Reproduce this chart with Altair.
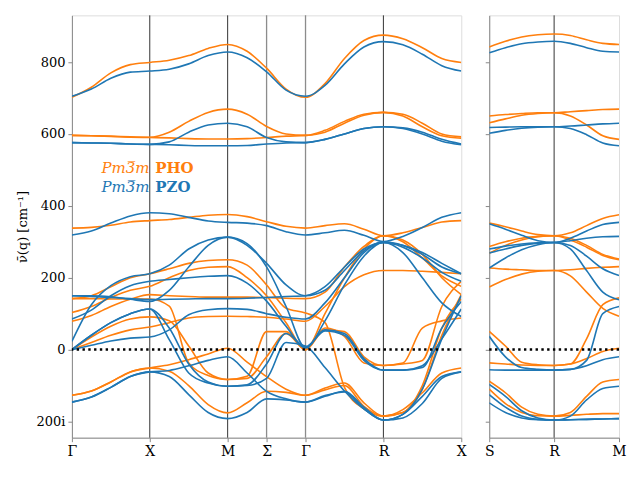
import altair as alt
import pandas as pd

ORANGE = "#ff7f0e"
BLUE = "#1f77b4"
SERIF = "DejaVu Serif"

materials = ["PHO", "PZO"]
mat_colors = [ORANGE, BLUE]

# high-symmetry path labels
left_ticks = [0, 1, 2, 2.5, 3, 4, 5]
left_labels = ["Γ", "X", "M", "Σ", "Γ", "R", "X"]
left_dark_lines = [1, 2, 4]
left_gray_lines = [2.5, 3]
right_ticks = [0, 1, 2]
right_labels = ["S", "R", "M"]
right_dark_lines = [1]

y_ticks = [-200, 0, 200, 400, 600, 800]
y_labels = ["200i", "0", "200", "400", "600", "800"]

# sampling points along the paths (quarter of a segment)
left_q = [0, 0.25, 0.5, 0.75, 1, 1.25, 1.5, 1.75, 2, 2.25, 2.5, 2.75,
          3, 3.25, 3.5, 3.75, 4, 4.25, 4.5, 4.75, 5]
right_q = [0, 0.25, 0.5, 0.75, 1, 1.25, 1.5, 1.75, 2]

# PHO branches, path Γ-X-M-Σ-Γ-R-X (cm^-1, negative = imaginary)
pho_left = [
    [702, 730, 770, 793, 799, 805, 818, 838, 849, 830, 783, 725, 702, 740, 810, 860, 875, 865, 840, 810, 799],
    [596, 595, 594, 592, 591, 605, 635, 660, 669, 655, 621, 600, 596, 610, 635, 655, 660, 655, 630, 600, 592],
    [596, 595, 593, 591, 590, 589, 587, 586, 586, 587, 590, 594, 596, 605, 630, 652, 660, 650, 620, 595, 588],
    [338, 340, 346, 355, 359, 362, 368, 374, 376, 370, 356, 343, 338, 345, 350, 335, 317, 325, 340, 355, 359],
    [142, 150, 175, 200, 211, 225, 240, 248, 250, 235, 180, 115, 102, 75, -105, -165, -185, -167, -120, -65, -51],
    [142, 142, 141, 141, 141, 121, -37, -72, -83, -74, 50, 50, 0, 60, 37, -37, -44, -37, 60, 80, 88],
    [103, 120, 145, 165, 176, 200, 220, 229, 231, 200, 150, 75, 0, 100, 200, 280, 317, 300, 255, 205, 176],
    [79, 95, 120, 140, 153, 150, 148, 146, 146, 146, 145, 143, 142, 160, 230, 287, 317, 305, 265, 200, 153],
    [0, 35, 65, 85, 91, 80, 10, -65, -83, -80, -20, 45, 0, 55, 50, -20, -44, -40, -30, 120, 190],
    [0, 20, 40, 55, 63, 75, 88, 92, 93, 92, 90, 85, 79, 120, 175, 208, 220, 220, 218, 215, 211],
    [-127, -115, -90, -62, -51, -42, -28, -12, 4, -35, -75, -110, -127, -107, -93, -148, -185, -175, -110, 40, 153],
    [-127, -115, -90, -62, -51, -60, -100, -153, -176, -148, -116, -119, -127, -112, -100, -158, -185, -175, -100, 60, 141],
]

# PZO branches, path Γ-X-M-Σ-Γ-R-X
pzo_left = [
    [705, 725, 755, 772, 775, 780, 795, 818, 828, 812, 773, 722, 705, 735, 795, 842, 857, 848, 822, 790, 775],
    [576, 575, 574, 572, 571, 578, 605, 625, 630, 620, 590, 578, 576, 585, 600, 615, 620, 617, 605, 585, 572],
    [576, 575, 574, 572, 571, 570, 568, 567, 567, 568, 572, 575, 576, 585, 600, 615, 620, 615, 600, 580, 570],
    [319, 330, 352, 372, 381, 378, 368, 358, 354, 352, 345, 328, 319, 325, 332, 318, 301, 315, 340, 368, 381],
    [150, 150, 147, 140, 134, 165, 230, 290, 313, 295, 230, 120, 5, 80, 180, 260, 298, 285, 255, 215, 190],
    [23, 125, 178, 203, 211, 235, 280, 305, 313, 290, 240, 180, 150, 165, 220, 275, 300, 290, 265, 230, 211],
    [85, 110, 150, 178, 190, 195, 200, 204, 206, 185, 135, 65, 5, 55, 45, -25, -57, -57, -50, 60, 134],
    [0, 40, 75, 100, 113, 28, -65, -93, -102, -98, -40, 45, 8, 52, 40, -30, -57, -57, -45, 30, 113],
    [0, 12, 24, 32, 35, 55, 97, 111, 114, 112, 100, 90, 85, 130, 200, 270, 298, 270, 200, 130, 92],
    [150, 148, 145, 142, 139, 140, 141, 142, 142, 143, 145, 148, 150, 175, 230, 280, 298, 290, 270, 240, 211],
    [-146, -132, -105, -75, -62, -58, -45, -30, -20, -65, -116, -137, -146, -130, -116, -160, -196, -180, -130, -75, -62],
    [-146, -132, -105, -75, -62, -75, -125, -175, -192, -175, -137, -140, -146, -128, -118, -165, -196, -180, -110, 30, 150],
    [0, 40, 75, 100, 113, 60, -40, -90, -102, -100, -80, 20, 10, -50, -115, -165, -196, -190, -150, -80, -62],
]

# PHO branches, path S-R-M
pho_right = [
    [842, 858, 870, 876, 878, 874, 862, 852, 849],
    [650, 654, 657, 659, 659, 662, 665, 668, 669],
    [631, 642, 652, 657, 659, 650, 625, 595, 585],
    [352, 342, 330, 320, 317, 325, 345, 365, 375],
    [287, 300, 310, 315, 317, 305, 285, 262, 250],
    [268, 290, 305, 314, 317, 310, 290, 265, 252],
    [174, 195, 210, 218, 220, 205, 160, 115, 93],
    [227, 224, 222, 220, 220, 222, 226, 229, 231],
    [51, 10, -35, -42, -44, -40, 30, 125, 144],
    [-37, -40, -43, -44, -44, -40, -25, -5, 4],
    [-88, -120, -160, -180, -185, -175, -130, -90, -83],
    [-110, -150, -175, -184, -185, -183, -180, -178, -178],
]

# PZO branches, path S-R-M
pzo_right = [
    [826, 840, 851, 856, 858, 852, 840, 830, 828],
    [618, 619, 620, 620, 620, 622, 625, 628, 630],
    [602, 610, 616, 619, 620, 615, 598, 575, 567],
    [350, 335, 318, 303, 298, 310, 330, 348, 354],
    [280, 288, 294, 297, 298, 303, 310, 314, 315],
    [269, 280, 290, 296, 298, 290, 260, 225, 206],
    [227, 255, 278, 292, 298, 280, 220, 160, 139],
    [37, -20, -50, -55, -57, -55, -30, 100, 120],
    [-56, -57, -57, -57, -57, -55, -45, -28, -20],
    [-97, -130, -170, -190, -196, -185, -140, -108, -102],
    [-125, -160, -185, -194, -196, -195, -194, -193, -192],
    [-148, -175, -190, -195, -196, -195, -194, -193, -192],
]

# legend text (placed in data coordinates of the left panel)
legend_space = ["Pm3\u0305m", "Pm3\u0305m"]
legend_names = ["PHO", "PZO"]
legend_q = [0.38, 1.07]
legend_nu = [492, 439]


def frame(rows, q, mat):
    recs = []
    for b, ys in enumerate(rows):
        for x, y in zip(q, ys):
            recs.append({"mat": mat, "key": f"{mat}{b}", "q": x, "nu": y})
    return pd.DataFrame(recs)


def label_expr(vals, labels):
    expr = "''"
    for v, l in reversed(list(zip(vals, labels))):
        expr = f"abs(datum.value - ({v})) < 1e-6 ? '{l}' : ({expr})"
    return expr


color_scale = alt.Scale(domain=materials, range=mat_colors)
y_scale = alt.Scale(domain=[-245, 930], nice=False, zero=False)


def panel(pho_rows, pzo_rows, q, ticks, labels, xmax, width, dark, gray, first):
    x_enc = alt.X("q:Q", scale=alt.Scale(domain=[0, xmax], nice=False, zero=False),
                  axis=alt.Axis(values=ticks, labelExpr=label_expr(ticks, labels), title=None,
                                grid=False, labelFontSize=14, labelFont=SERIF, tickSize=4,
                                labelPadding=3, labelFlush=False))
    if first:
        y_axis = alt.Axis(values=y_ticks, labelExpr=label_expr(y_ticks, y_labels), grid=False,
                          tickSize=4, labelFontSize=13, labelFont=SERIF, labelPadding=3,
                          title="ν̄(q) [cm⁻¹]", titleFont=SERIF, titleFontSize=13,
                          titleFontWeight="normal", titlePadding=6)
    else:
        y_axis = alt.Axis(values=y_ticks, grid=False, tickSize=4, labels=False, title=None)
    y_enc = alt.Y("nu:Q", scale=y_scale, axis=y_axis)

    layers = []
    layers.append(alt.Chart(pd.DataFrame({"q": dark})).mark_rule(color="black", strokeWidth=0.8)
                  .encode(x=x_enc))
    if gray:
        layers.append(alt.Chart(pd.DataFrame({"q": gray})).mark_rule(color="#8c8c8c", strokeWidth=1.3)
                      .encode(x=x_enc))
    for rows, mat in ((pho_rows, "PHO"), (pzo_rows, "PZO")):
        layers.append(
            alt.Chart(frame(rows, q, mat)).mark_line(interpolate="monotone", strokeWidth=1.6, clip=True)
            .encode(x=x_enc, y=y_enc, detail="key:N",
                    color=alt.Color("mat:N", scale=color_scale, legend=None))
        )
    layers.append(alt.Chart(pd.DataFrame({"nu": [0]}))
                  .mark_rule(color="black", strokeWidth=2.5, strokeDash=[2.4, 3.4])
                  .encode(y=y_enc))
    if first:
        leg = pd.DataFrame({"q": legend_q[0], "nu": legend_nu, "t": legend_space, "mat": materials})
        leg2 = pd.DataFrame({"q": legend_q[1], "nu": legend_nu, "t": legend_names, "mat": materials})
        layers.append(alt.Chart(leg).mark_text(align="left", baseline="alphabetic", font=SERIF,
                                               fontStyle="italic", fontSize=15)
                      .encode(x=x_enc, y=y_enc, text="t:N",
                              color=alt.Color("mat:N", scale=color_scale, legend=None)))
        layers.append(alt.Chart(leg2).mark_text(align="left", baseline="alphabetic", font=SERIF,
                                                fontWeight="bold", fontSize=15)
                      .encode(x=x_enc, y=y_enc, text="t:N",
                              color=alt.Color("mat:N", scale=color_scale, legend=None)))
    return alt.layer(*layers).properties(width=width, height=423)


left = panel(pho_left, pzo_left, left_q, left_ticks, left_labels, 5, 390,
             left_dark_lines, left_gray_lines, True)
right = panel(pho_right, pzo_right, right_q, right_ticks, right_labels, 2, 130,
              right_dark_lines, [], False)

chart = (
    alt.hconcat(left, right, spacing=16)
    .properties(padding={"left": 8, "top": 5, "right": 5, "bottom": 5})
    .configure_view(stroke="black", strokeWidth=1)
    .configure_axis(domainColor="black", tickColor="black", labelColor="black",
                    domainWidth=1, tickWidth=1, titleColor="black",
                    labelFont=SERIF, titleFont=SERIF)
    .configure_text(font=SERIF)
    .configure(background="white", font=SERIF)
)

chart.save("out.html", embed_options={"renderer": "svg", "actions": False})
